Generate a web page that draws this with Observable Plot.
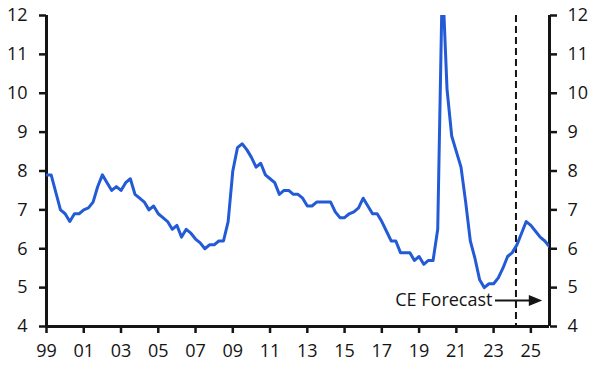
<!DOCTYPE html>
<html>
<head>
<meta charset="utf-8">
<script src="https://cdn.jsdelivr.net/npm/d3@7"></script>
<script src="https://cdn.jsdelivr.net/npm/@observablehq/plot@0.6"></script>
<style>
  html, body { margin: 0; padding: 0; background: #fff; }
  #chart { width: 596px; height: 365px; }
</style>
</head>
<body>
<div id="chart"></div>
<script>
// Quarterly unemployment rate (%), 1999Q1 .. 2026Q1 (forecast from 2024)
const startYear = 1999;
const unemployment = [
  7.9, 7.9, 7.45, 7.0,   // 1999
  6.9, 6.7, 6.9, 6.9,    // 2000
  7.0, 7.05, 7.2, 7.6,   // 2001
  7.9, 7.7, 7.5, 7.6,    // 2002
  7.5, 7.7, 7.8, 7.4,    // 2003
  7.3, 7.2, 7.0, 7.1,    // 2004
  6.9, 6.8, 6.7, 6.5,    // 2005
  6.6, 6.3, 6.5, 6.4,    // 2006
  6.25, 6.15, 6.0, 6.1,  // 2007
  6.1, 6.2, 6.2, 6.7,    // 2008
  8.0, 8.6, 8.7, 8.55,   // 2009
  8.35, 8.1, 8.2, 7.9,   // 2010
  7.8, 7.7, 7.4, 7.5,    // 2011
  7.5, 7.4, 7.4, 7.3,    // 2012
  7.1, 7.1, 7.2, 7.2,    // 2013
  7.2, 7.2, 6.95, 6.8,   // 2014
  6.8, 6.9, 6.95, 7.05,  // 2015
  7.3, 7.1, 6.9, 6.9,    // 2016
  6.7, 6.45, 6.2, 6.2,   // 2017
  5.9, 5.9, 5.9, 5.7,    // 2018
  5.8, 5.6, 5.7, 5.7,    // 2019
  6.5, 13.0, 10.1, 8.9,  // 2020
  8.5, 8.1, 7.2, 6.2,    // 2021
  5.75, 5.2, 5.0, 5.1,   // 2022
  5.1, 5.25, 5.5, 5.8,   // 2023
  5.9, 6.1, 6.4, 6.7,    // 2024
  6.6, 6.45, 6.3, 6.2,   // 2025
  6.05                   // 2026
];
const xDomain = [1999, 2026];
const yDomain = [4, 12];
const xTicks = [1999, 2001, 2003, 2005, 2007, 2009, 2011, 2013, 2015, 2017, 2019, 2021, 2023, 2025];
const yTicks = [4, 5, 6, 7, 8, 9, 10, 11, 12];
const forecastStart = 2024.2;
const forecastLabel = "CE Forecast";
const arrowFrom = 2023.1;
const arrowTo = 2025.0;
const arrowHeadAt = 2025.25;
const arrowY = 4.67;

const data = unemployment.map((v, i) => ({date: startYear + i / 4, value: v}));

const rightTriangle = {
  draw(ctx) {
    ctx.moveTo(6.7, 0);
    ctx.lineTo(-6.7, -5.5);
    ctx.lineTo(-6.7, 5.5);
    ctx.closePath();
  }
};

const ink = "#141414";
const fs = 18;
const chart = Plot.plot({
  width: 596,
  height: 365,
  marginLeft: 46,
  marginRight: 47,
  marginTop: 15,
  marginBottom: 39,
  x: {domain: xDomain, label: null},
  y: {domain: yDomain, label: null},
  style: {fontFamily: "'Open Sans', sans-serif", fontSize: fs + "px", color: ink, background: "#fff"},
  marks: [
    Plot.axisY(yTicks, {anchor: "left", tickSize: 7, tickPadding: 12, strokeWidth: 2.5, label: null, fontSize: fs}),
    Plot.axisY(yTicks, {anchor: "right", tickSize: 7, tickPadding: 11, strokeWidth: 2.5, label: null, fontSize: fs}),
    Plot.axisX(xTicks, {anchor: "bottom", tickSize: 7, tickPadding: 11, strokeWidth: 2.5, label: null, fontSize: fs,
      tickFormat: d => String(d).slice(2)}),
    Plot.ruleX(xDomain, {stroke: ink, strokeWidth: 3}),
    Plot.ruleY([yDomain[0]], {stroke: ink, strokeWidth: 3}),
    Plot.ruleX([forecastStart], {stroke: ink, strokeWidth: 2, strokeDasharray: "7,4"}),
    Plot.line(data, {x: "date", y: "value", stroke: "#235bd6", strokeWidth: 3, clip: true, strokeLinejoin: "round"}),
    Plot.ruleY([{y: arrowY, x1: arrowFrom, x2: arrowTo}], {y: "y", x1: "x1", x2: "x2", stroke: ink, strokeWidth: 2}),
    Plot.dot([{x: arrowHeadAt, y: arrowY}], {x: "x", y: "y", symbol: rightTriangle, fill: ink, stroke: "none", r: 6}),
    Plot.text([{x: arrowFrom, y: arrowY, t: forecastLabel}], {x: "x", y: "y", text: "t", textAnchor: "end", dx: -3, fill: ink, fontSize: fs})
  ]
});
document.getElementById("chart").appendChild(chart);
</script>
</body>
</html>
